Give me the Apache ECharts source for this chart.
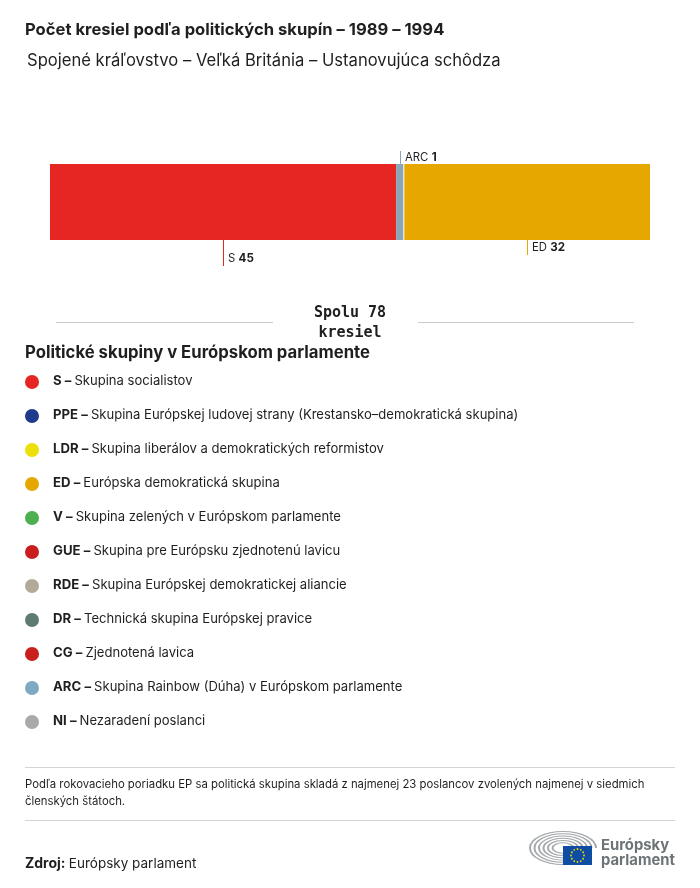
<!DOCTYPE html>
<html><head><meta charset="utf-8">
<style>html,body{margin:0;padding:0;background:#fff}#c{width:700px;height:888px}</style>
<script src="https://cdn.jsdelivr.net/npm/echarts@6/dist/echarts.min.js"></script>
</head><body><div id="c"></div>
<script>
const seatGroups = ['S','ARC','ED'];
const seatValues = [45,1,32];
const seatColors = ['#e62622','#8aa6b8','#e6a800'];
const legendCodes = ['S','PPE','LDR','ED','V','GUE','RDE','DR','CG','ARC','NI'];
const legendNames = ['Skupina socialistov','Skupina Európskej ludovej strany (Krestansko–demokratická skupina)','Skupina liberálov a demokratických reformistov','Európska demokratická skupina','Skupina zelených v Európskom parlamente','Skupina pre Európsku zjednotenú lavicu','Skupina Európskej demokratickej aliancie','Technická skupina Európskej pravice','Zjednotená lavica','Skupina Rainbow (Dúha) v Európskom parlamente','Nezaradení poslanci'];
const legendColors = ['#e62622','#1f3a8a','#ecdf0a','#e6a800','#4caf50','#c81e1e','#b3a998','#5f7a70','#c81e1e','#7fa8c2','#a9a9a9'];
const FONT='Inter, "Noto Sans", sans-serif', INK='#1f1f1f';
const leaderSpec={S:{dir:1,len:26},ARC:{dir:-1,len:13},ED:{dir:1,len:15}};

let cum=0; const spans=seatValues.map((v,i)=>{const s=[cum,cum+v,i];cum+=v;return s;});

const g=[];
const txt=(x,y,text,fs,fw,fill,extra)=>g.push({type:'text',left:x,top:y,silent:true,style:Object.assign({text,font:`${fw} ${fs}px ${FONT}`,fill,textVerticalAlign:'top'},extra||{})});
const rule=(x1,x2,y,c)=>g.push({type:'line',silent:true,shape:{x1,y1:y,x2,y2:y},style:{stroke:c||'#cfcfcf',lineWidth:1}});
txt(25,21.5,'Počet kresiel podľa politických skupín – 1989 – 1994',16.6,700,INK);
txt(27,52.5,'Spojené kráľovstvo – Veľká Británia – Ustanovujúca schôdza',16.6,400,INK);
rule(56,273,322.5,'#cccccc'); rule(418,634,322.5,'#cccccc');
g.push({type:'text',x:350,y:303,silent:true,style:{text:'Spolu 78\nkresiel',align:'center',textAlign:'center',font:'700 15px "DejaVu Sans Mono", monospace',lineHeight:20,fill:INK}});
txt(25,344,'Politické skupiny v Európskom parlamente',16.7,700,INK);
legendCodes.forEach((code,i)=>{
  const y=381+i*34;
  g.push({type:'circle',silent:true,shape:{cx:32,cy:y+1,r:7},style:{fill:legendColors[i]}});
  g.push({type:'text',left:53,top:y-6,silent:true,style:{rich:{b:{font:`700 13.2px ${FONT}`,fill:INK},n:{font:`400 13.05px ${FONT}`,fill:INK}},text:`{b|${code} – }{n|${legendNames[i]}}`}});
});
rule(25,675,767.5,'#d5d5d5'); rule(25,675,820.5,'#d5d5d5');
txt(25,779,'Podľa rokovacieho poriadku EP sa politická skupina skladá z najmenej 23 poslancov zvolených najmenej v siedmich',11.33,400,INK);
txt(25,796.5,'členských štátoch.',11.33,400,INK);
g.push({type:'text',left:25,top:857,silent:true,style:{rich:{b:{font:`700 14px ${FONT}`,fill:INK},n:{font:`400 13.5px ${FONT}`,fill:INK}},text:'{b|Zdroj:} {n|Európsky parlament}'}});
[33,28.5,24,19.5,15,10.5].forEach(r=>g.push({type:'arc',silent:true,x:563,y:848,scaleX:1,scaleY:0.5,shape:{cx:0,cy:0,r,startAngle:Math.PI*0.5,endAngle:Math.PI*2,clockwise:true},style:{stroke:'#a3a8ab',lineWidth:2,fill:'none'}}));
g.push({type:'rect',silent:true,shape:{x:563,y:846,width:29,height:19},style:{fill:'#0f4da2'}});
for(let k=0;k<12;k++){const a=k*Math.PI/6;g.push({type:'circle',silent:true,shape:{cx:577.5+6.5*Math.cos(a),cy:855.5+6.5*Math.sin(a),r:0.9},style:{fill:'#f5d90a'}});}
txt(601,838,'Európsky',14.8,700,'#6d7478');
txt(601,853,'parlament',14.8,700,'#6d7478');

const series=seatGroups.map((name,i)=>({type:'bar',name,stack:'seats',barWidth:'100%',silent:true,
  data:[seatValues[i]],itemStyle:{color:seatColors[i]}}));
series.push({type:'custom',silent:true,coordinateSystem:'cartesian2d',z:5,data:spans.map(s=>[s[0],s[1],s[2]]),encode:{x:[0,1]},clip:false,
  renderItem(params,api){
    const i=api.value(2), name=seatGroups[i], spec=leaderSpec[name];
    const x=Math.round(api.coord([(api.value(0)+api.value(1))/2,0])[0]);
    const r=params.coordSys;
    const y0=spec.dir>0?r.y+r.height:r.y, y1=y0+spec.dir*spec.len;
    return {type:'group',children:[
      {type:'rect',shape:{x,y:Math.min(y0,y1),width:1,height:spec.len},style:{fill:seatColors[i]}},
      {type:'text',x:x+5,y:spec.dir>0?y1-7:y1+7,style:{rich:{n:{font:`400 11.3px ${FONT}`,fill:INK},b:{font:`700 11.6px ${FONT}`,fill:INK}},text:`{n|${name}} {b|${seatValues[i]}}`,textVerticalAlign:'middle'}}
    ]};
  }});
// thin white separator at the left edge of the last segment, positioned by the x scale
series.push({type:'custom',silent:true,coordinateSystem:'cartesian2d',z:4,data:[[spans[2][0]]],encode:{x:0},
  renderItem(params,api){const x=api.coord([api.value(0),0])[0],r=params.coordSys;
    return {type:'rect',shape:{x:x-0.5,y:r.y,width:1,height:r.height},style:{fill:'#fff'}};}});

const chart=echarts.init(document.getElementById('c'),null,{renderer:'canvas'});
chart.setOption({animation:false,backgroundColor:'#fff',
  grid:{left:50,width:600,top:164,height:76},
  xAxis:{type:'value',min:0,max:78,show:false},
  yAxis:{type:'category',data:['Seats'],show:false},
  series,graphic:g});
</script></body></html>
